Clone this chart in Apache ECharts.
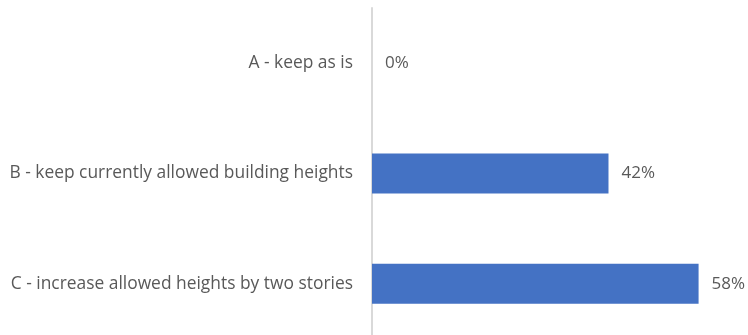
<!DOCTYPE html>
<html>
<head>
<meta charset="utf-8">
<script src="https://cdn.jsdelivr.net/npm/echarts@6/dist/echarts.min.js"></script>
<style>
  html, body { margin: 0; padding: 0; background: #fff; }
  #chart { width: 748px; height: 335px; }
</style>
</head>
<body>
<div id="chart"></div>
<script>
// Survey options and share of responses (percent)
const categories = [
  'A - keep as is',
  'B - keep currently allowed building heights',
  'C - increase allowed heights by two stories'
];
const shares = [0, 42, 58];

const chart = echarts.init(document.getElementById('chart'));
const textColor = '#595959';
const fontFamily = '"Open Sans", sans-serif';

chart.setOption({
  animation: false,
  grid: { left: 372, right: 10, top: 8, height: 331, outerBoundsMode: 'none' },
  xAxis: {
    type: 'value',
    min: 0,
    max: 65,
    show: false
  },
  yAxis: {
    type: 'category',
    data: categories,
    inverse: true,
    axisLine: { show: true, lineStyle: { color: '#D9D9D9', width: 2 } },
    axisTick: { show: false },
    axisLabel: {
      color: textColor,
      fontSize: 17.4,
      fontFamily: fontFamily,
      margin: 19
    }
  },
  series: [{
    type: 'bar',
    data: shares,
    barWidth: 40,
    itemStyle: { color: '#4472C4' },
    label: {
      show: true,
      position: 'right',
      distance: 13,
      color: textColor,
      fontSize: 17,
      fontFamily: fontFamily,
      formatter: p => p.value + '%'
    }
  }]
});
</script>
</body>
</html>
